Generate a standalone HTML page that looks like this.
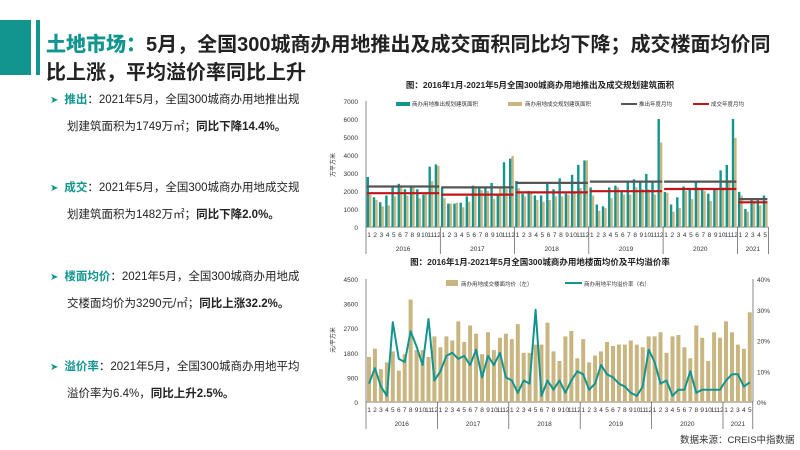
<!DOCTYPE html><html><head><meta charset="utf-8"><style>
body{margin:0;width:800px;height:450px;background:#fff;overflow:hidden;font-family:"Liberation Sans","Noto Sans CJK SC",sans-serif;position:relative}
.blk{position:absolute;left:0;top:20px;width:31px;height:55px;background:#13958f}
.bar{position:absolute;left:36px;top:20px;width:4px;height:55px;background:#13958f}
.t{position:absolute;left:46px;font-size:20px;font-weight:bold;color:#222;white-space:nowrap}
.t b{color:#13958f}
.p{position:absolute;left:50px;font-size:11.5px;color:#222;line-height:27px;white-space:nowrap}
.p .a{color:#13958f;font-size:10px;margin-right:6px}
.p .k{color:#13958f;font-weight:bold}
.p .i{padding-left:17px}
.src{position:absolute;left:680px;top:432px;font-size:9.5px;color:#333;white-space:nowrap}
svg{position:absolute;left:0;top:0}
</style></head><body>
<div class="blk"></div><div class="bar"></div>
<div class="t" style="top:28px"><b>土地市场：</b>5月，全国300城商办用地推出及成交面积同比均下降；成交楼面均价同</div>
<div class="t" style="top:56px">比上涨，平均溢价率同比上升</div>
<div class="p" style="top:87px"><span class="a">➤</span><span class="k">推出</span>：2021年5月，全国300城商办用地推出规<br><span class="i">划建筑面积为1749万㎡；<b>同比下降14.4%。</b></span></div>
<div class="p" style="top:175px"><span class="a">➤</span><span class="k">成交</span>：2021年5月，全国300城商办用地成交规<br><span class="i">划建筑面积为1482万㎡；<b>同比下降2.0%。</b></span></div>
<div class="p" style="top:264px"><span class="a">➤</span><span class="k">楼面均价</span>：2021年5月，全国300城商办用地成<br><span class="i">交楼面均价为3290元/㎡；<b>同比上涨32.2%。</b></span></div>
<div class="p" style="top:354px"><span class="a">➤</span><span class="k">溢价率</span>：2021年5月，全国300城商办用地平均<br><span class="i">溢价率为6.4%，<b>同比上升2.5%。</b></span></div>
<div class="src">数据来源：CREIS中指数据</div>
<svg id="s" width="800" height="450"></svg>
<script>
var S='';function R(x,y,w,h,c){S+='<rect x="'+x.toFixed(1)+'" y="'+y.toFixed(1)+'" width="'+w.toFixed(1)+'" height="'+h.toFixed(1)+'" fill="'+c+'"/>';}
function L(x1,y1,x2,y2,c,w){S+='<line x1="'+x1+'" y1="'+y1+'" x2="'+x2+'" y2="'+y2+'" stroke="'+c+'" stroke-width="'+w+'"/>';}
function T(x,y,t,s,a,c,b,r){S+='<text x="'+x+'" y="'+y+'" font-size="'+s+'" text-anchor="'+(a||'start')+'" fill="'+(c||'#333')+'"'+(b?' font-weight="bold"':'')+(r?' transform="rotate(-90 '+x+' '+y+')"':'')+'>'+t+'</text>';}
var sup=[2780,1650,1380,1750,2200,2400,2100,2250,2100,1800,3350,3480,2200,1300,1300,1350,1700,2300,2200,2200,2450,1800,3600,3800,2550,1850,2000,1750,1750,2400,2100,2700,1850,2900,3450,3700,2200,1250,1150,2200,2300,2000,2500,2650,2550,2950,2500,6000,1950,1250,1650,2250,2100,2500,2100,1850,2100,3150,3450,6000,1950,1000,1500,1500,1750];
var dl=[1800,1500,1150,1200,1700,2300,1750,2200,1600,1850,2550,3400,1600,1300,1350,1100,1400,2250,2050,2000,1550,2200,2100,3950,2150,1700,1950,1500,1400,1500,1700,1700,1800,1900,2150,3700,1750,900,1050,1600,2200,1800,1800,2200,2100,2100,1800,4700,1900,850,1050,2000,1550,2200,2000,1450,2050,2200,2600,4950,1750,850,1450,1200,1450];
var sa=[2250,2200,2450,2520,2520,1550],da=[1880,1800,1920,1990,2110,1370];
T(540,88,'图：2016年1月-2021年5月全国300城商办用地推出及成交规划建筑面积',8.5,'middle','#222',1);
var x0=366,y0=227,H=126,w=6.19;
for(var v=0;v<=7000;v+=1000){T(358,y0-v/7000*H+3,v,6.5,'end');}
L(x0,101,x0,y0,'#555',0.7);L(x0,y0,768,y0,'#555',0.7);
T(335,165,'万平方米',6,'middle','#333',0,1);
for(var i=0;i<65;i++){var x=x0+i*w;R(x+0.6,y0-sup[i]/7000*H,2.4,sup[i]/7000*H,'#13958f');R(x+3,y0-dl[i]/7000*H,2.4,dl[i]/7000*H,'#c9b57f');T(x+3,y0+10,(i%12)+1,6.5,'middle');}
for(var k=0;k<6;k++){var a=x0+k*12*w,b=a+(k<5?12:5)*w;L(a+1,(y0-sa[k]/7000*H).toFixed(1),b-1,(y0-sa[k]/7000*H).toFixed(1),'#555',2.2);L(a+1,(y0-da[k]/7000*H).toFixed(1),b-1,(y0-da[k]/7000*H).toFixed(1),'#c0141a',2.2);L(b.toFixed(1),y0,b.toFixed(1),y0+27,'#555',0.7);T((a+b)/2,y0+24,2016+k,6.5,'middle');}
L(x0,y0,x0,y0+27,'#555',0.7);
R(396,102,14,4,'#13958f');T(412,106,'商办用地推出规划建筑面积',5.5);
R(508,102,14,4,'#c9b57f');T(525,106,'商办用地成交规划建筑面积',5.5);
L(621,104,637,104,'#555',2);T(639,106,'推出年度月均',5.5);
L(693,104,709,104,'#c0141a',2);T(711,106,'成交年度月均',5.5);
var pr=[1650,1950,1200,1450,1850,1150,1750,3750,1900,1900,1650,2400,2000,2400,2250,2950,2200,2800,2500,1750,2550,1900,2350,2500,2300,2850,1800,1800,2100,2100,2900,1850,1500,2400,2600,1600,2300,1450,1700,1850,2200,2050,2100,2100,2250,2100,2000,2400,2400,2550,1800,2400,2450,2000,1600,2800,2350,1500,2550,2350,2950,2550,2100,1950,3280];
var rt=[6,11,5,2,26,14,13,23,18,12,27,7,10,15,16,14,15,12,17,8,15,12,16,8,7,3,7,6,30,2,7,4,7,3,7,10,9,4,6,12,9,8,6,5,3,2,5,17,13,6,7,2,4,4,10,3,4,4,4,4,7,9,9,5,6.4];
T(540,265,'图：2016年1月-2021年5月全国300城商办用地楼面均价及平均溢价率',8.5,'middle','#222',1);
x0=366;y0=402;H=123;w=5.95;var xe=753;
for(v=0;v<=4500;v+=900){T(358,y0-v/4500*H+3,v,6.5,'end');}
for(v=0;v<=40;v+=10){T(757,y0-v/40*H+3,v+'%',6.5,'start');}
L(x0,279,x0,y0,'#555',0.7);L(xe,279,xe,y0,'#555',0.7);L(x0,y0,xe,y0,'#555',0.7);
T(335,340,'元/平方米',6,'middle','#333',0,1);
var pts=[];
for(i=0;i<65;i++){x=x0+i*w;R(x+1,y0-pr[i]/4500*H,4,pr[i]/4500*H,'#c9b57f');T(x+3,y0+10,(i%12)+1,6.5,'middle');pts.push((x+3).toFixed(1)+','+(y0-rt[i]/40*H).toFixed(1));}
S+='<polyline points="'+pts.join(' ')+'" fill="none" stroke="#13958f" stroke-width="2" stroke-linejoin="round"/>';
for(k=0;k<6;k++){a=x0+k*12*w;b=a+(k<5?12:5)*w;L(b.toFixed(1),y0,b.toFixed(1),y0+27,'#555',0.7);T((a+b)/2,y0+24,2016+k,6.5,'middle');}
L(x0,y0,x0,y0+27,'#555',0.7);
R(446,280,12,6,'#c9b57f');T(461,286,'商办用地成交楼面均价（左）',5.5);
L(565,283,582,283,'#13958f',2);T(584,286,'商办用地平均溢价率（右）',5.5);
document.getElementById('s').innerHTML=S;
</script></body></html>
